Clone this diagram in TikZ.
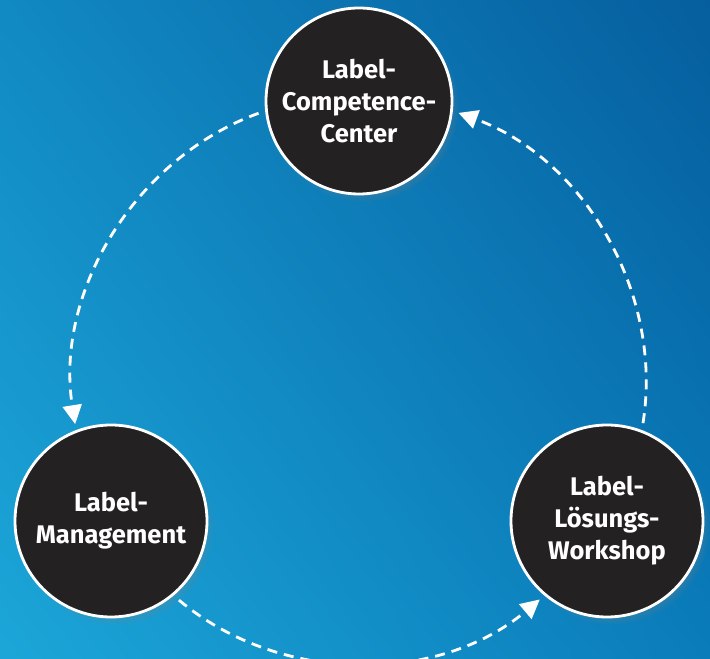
\documentclass[tikz,border=0pt]{standalone}
\usepackage{fontspec}
\setmainfont{Fira Sans}
\usetikzlibrary{arrows.meta,shadows,shadings}
\definecolor{bgTL}{HTML}{1189C3}
\definecolor{bgTR}{HTML}{065E9E}
\definecolor{bgBL}{HTML}{1CA6D8}
\definecolor{bgBR}{HTML}{0A7CBA}
\definecolor{hubfill}{HTML}{232121}
\begin{document}
\begin{tikzpicture}[x=1pt,y=1pt,
  hub/.style={circle, draw=white, line width=2.8pt, fill=hubfill, inner sep=0pt,
    align=center, text=white, font=\bfseries\fontsize{25.5}{32}\selectfont,
    circular drop shadow={shadow xshift=4pt, shadow yshift=-5pt, shadow scale=1.03, opacity=0.45}},
  flow/.style={draw=white, line width=2.8pt, dash pattern=on 10pt off 7pt,
    -{Triangle[length=19pt,width=19pt]}, shorten <=7pt, shorten >=6pt, looseness=0.96}]
\shade[upper left=bgTL, upper right=bgTR, lower left=bgBL, lower right=bgBR] (0,0) rectangle (710,659);
\useasboundingbox (0,0) rectangle (710,659);
\node[hub, minimum size=186pt] (top) at (359,558) {Label-\\Competence-\\Center};
\node[hub, minimum size=192pt] (left) at (111,138) {Label-\\Management};
\node[hub, minimum size=192pt] (right) at (607,138) {Label-\\Lösungs-\\Workshop};
\draw[flow] (top.186) to[out=200, in=99] (left.111);
\draw[flow] (left.310) to[out=-40, in=220] (right.230);
\draw[flow] (right.69) to[out=81, in=-20] (top.354);
\end{tikzpicture}
\end{document}
